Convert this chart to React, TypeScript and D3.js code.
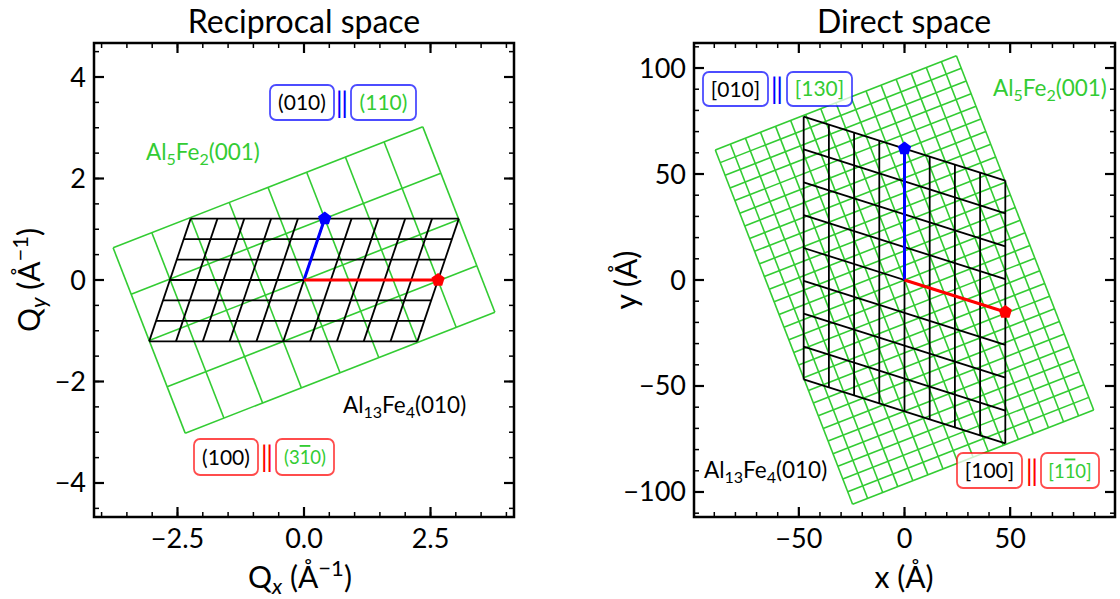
import React from "react";
import * as d3 from "d3";

const FONT = "Lato, 'DejaVu Sans', sans-serif";
const GREEN = "#33cc33";
const BLUE = "#0000ff";
const RED = "#ff0000";

// ---------- Reciprocal space (left) ----------
const recipXTicks = [-2.5, 0, 2.5];
const recipYTicks = [-4, -2, 0, 2, 4];
const recipXDomain = [-4.15, 4.15];
const recipYDomain = [-4.67, 4.67];
const recipRed = [2.65, 0]; // (100) || (3-10)
const recipBlue = [0.41, 1.21]; // (010) || (110)
const recipBlackDiv = [5, 3]; // Al13Fe4 cells per half-vector
const recipGreenA = [0.765, 0.298]; // Al5Fe2 a*
const recipGreenB = [-0.356, 0.913]; // Al5Fe2 b*
const recipGreenHalf = [4, 2]; // cells each side

// ---------- Direct space (right) ----------
const directXTicks = [-50, 0, 50];
const directYTicks = [-100, -50, 0, 50, 100];
const directXDomain = [-99.6, 99.6];
const directYDomain = [-111.8, 111.8];
const directRed = [47.7, -15.1]; // [100] || [1-10]
const directBlue = [0, 62]; // [010] || [130]
const directBlackDiv = [4, 4];
const directGreenA = [7.13, 2.78];
const directGreenB = [-2.32, 5.97];
const directGreenHalf = [8, 14];

type V2 = number[];

function gridSegments(U: V2, V: V2, m: number, n: number): V2[][] {
  const segs: V2[][] = [];
  for (let i = -m; i <= m; i++) {
    segs.push([
      [i * U[0] - n * V[0], i * U[1] - n * V[1]],
      [i * U[0] + n * V[0], i * U[1] + n * V[1]],
    ]);
  }
  for (let j = -n; j <= n; j++) {
    segs.push([
      [-m * U[0] + j * V[0], -m * U[1] + j * V[1]],
      [m * U[0] + j * V[0], m * U[1] + j * V[1]],
    ]);
  }
  return segs;
}

function pentagon(cx: number, cy: number, r: number) {
  const pts = d3.range(5).map((k) => {
    const a = ((-90 + k * 72) * Math.PI) / 180;
    return [cx + r * Math.cos(a), cy + r * Math.sin(a)];
  });
  return "M" + pts.map((p) => p.join(",")).join("L") + "Z";
}

const fmt = (v: number, dec: number) => {
  const s = dec > 0 ? v.toFixed(dec) : String(v);
  return s.replace("-", "\u2212");
};

type PanelProps = {
  id: string;
  f: { x0: number; x1: number; y0: number; y1: number };
  xd: number[];
  yd: number[];
  xt: number[];
  yt: number[];
  xMinorStep: number;
  yMinorStep: number;
  xDec: number;
  yDec: number;
  red: V2;
  blue: V2;
  blackDiv: number[];
  gA: V2;
  gB: V2;
  gHalf: number[];
};

function Panel(p: PanelProps) {
  const { f } = p;
  const x = d3.scaleLinear().domain(p.xd).range([f.x0, f.x1]);
  const y = d3.scaleLinear().domain(p.yd).range([f.y1, f.y0]);
  const line = d3
    .line<V2>()
    .x((d) => x(d[0]))
    .y((d) => y(d[1]));

  const greenSegs = gridSegments(p.gA, p.gB, p.gHalf[0], p.gHalf[1]);
  const U = [p.red[0] / p.blackDiv[0], p.red[1] / p.blackDiv[0]];
  const V = [p.blue[0] / p.blackDiv[1], p.blue[1] / p.blackDiv[1]];
  const blackSegs = gridSegments(U, V, p.blackDiv[0], p.blackDiv[1]);

  const eps = 1e-9;
  const xMinor = d3.range(
    Math.ceil(p.xd[0] / p.xMinorStep) * p.xMinorStep,
    p.xd[1] + eps,
    p.xMinorStep
  );
  const yMinor = d3.range(
    Math.ceil(p.yd[0] / p.yMinorStep) * p.yMinorStep,
    p.yd[1] + eps,
    p.yMinorStep
  );
  const MAJ = 10;
  const MIN = 5;

  return (
    <g>
      <defs>
        <clipPath id={p.id}>
          <rect x={f.x0} y={f.y0} width={f.x1 - f.x0} height={f.y1 - f.y0} />
        </clipPath>
      </defs>
      <g clipPath={`url(#${p.id})`}>
        {greenSegs.map((s, i) => (
          <path key={"g" + i} d={line(s) || ""} stroke={GREEN} strokeWidth={1.6} fill="none" />
        ))}
        {blackSegs.map((s, i) => (
          <path key={"b" + i} d={line(s) || ""} stroke="#000" strokeWidth={1.8} fill="none" />
        ))}
        <path d={line([[0, 0], p.blue]) || ""} stroke={BLUE} strokeWidth={3} fill="none" />
        <path d={line([[0, 0], p.red]) || ""} stroke={RED} strokeWidth={3} fill="none" />
        <path d={pentagon(x(p.blue[0]), y(p.blue[1]), 7)} fill={BLUE} />
        <path d={pentagon(x(p.red[0]), y(p.red[1]), 7)} fill={RED} />
      </g>
      {/* ticks */}
      <g stroke="#000" strokeWidth={1.5}>
        {xMinor.map((v, i) => (
          <g key={"xm" + i}>
            <line x1={x(v)} x2={x(v)} y1={f.y1} y2={f.y1 - MIN} />
            <line x1={x(v)} x2={x(v)} y1={f.y0} y2={f.y0 + MIN} />
          </g>
        ))}
        {yMinor.map((v, i) => (
          <g key={"ym" + i}>
            <line y1={y(v)} y2={y(v)} x1={f.x0} x2={f.x0 + MIN} />
            <line y1={y(v)} y2={y(v)} x1={f.x1} x2={f.x1 - MIN} />
          </g>
        ))}
      </g>
      <g stroke="#000" strokeWidth={2.2}>
        {p.xt.map((v, i) => (
          <g key={"xt" + i}>
            <line x1={x(v)} x2={x(v)} y1={f.y1} y2={f.y1 - MAJ} />
            <line x1={x(v)} x2={x(v)} y1={f.y0} y2={f.y0 + MAJ} />
          </g>
        ))}
        {p.yt.map((v, i) => (
          <g key={"yt" + i}>
            <line y1={y(v)} y2={y(v)} x1={f.x0} x2={f.x0 + MAJ} />
            <line y1={y(v)} y2={y(v)} x1={f.x1} x2={f.x1 - MAJ} />
          </g>
        ))}
      </g>
      <rect
        x={f.x0}
        y={f.y0}
        width={f.x1 - f.x0}
        height={f.y1 - f.y0}
        fill="none"
        stroke="#000"
        strokeWidth={2.5}
      />
      <g fontFamily={FONT} fontSize={27} fill="#000">
        {p.xt.map((v, i) => (
          <text key={"xl" + i} x={x(v)} y={f.y1 + 31} textAnchor="middle">
            {fmt(v, p.xDec)}
          </text>
        ))}
        {p.yt.map((v, i) => (
          <text key={"yl" + i} x={f.x0 - 8} y={y(v) + 9.5} textAnchor="end">
            {fmt(v, p.yDec)}
          </text>
        ))}
      </g>
    </g>
  );
}

type BoxPairProps = {
  color: string;
  y0: number;
  y1: number;
  b1: number[];
  bar: number;
  b2: number[];
  t1: string;
  t2: React.ReactNode;
  t2Size: number;
};

function BoxPair(p: BoxPairProps) {
  const cy = (p.y0 + p.y1) / 2;
  const box = (b: number[]) => (
    <rect
      x={b[0]}
      y={p.y0}
      width={b[1] - b[0]}
      height={p.y1 - p.y0}
      rx={6}
      ry={6}
      fill="#fff"
      fillOpacity={0.75}
      stroke={p.color}
      strokeOpacity={0.7}
      strokeWidth={1.8}
    />
  );
  return (
    <g fontFamily={FONT}>
      {box(p.b1)}
      {box(p.b2)}
      <text x={(p.b1[0] + p.b1[1]) / 2} y={cy + 7.5} textAnchor="middle" fontSize={21} fill="#000">
        {p.t1}
      </text>
      <text x={p.bar} y={cy + 10} textAnchor="middle" fontSize={28} fill={p.color}>
        {"\u2016"}
      </text>
      <text
        x={(p.b2[0] + p.b2[1]) / 2}
        y={cy + 7}
        textAnchor="middle"
        fontSize={p.t2Size}
        fill={GREEN}
      >
        {p.t2}
      </text>
    </g>
  );
}

function Formula({ x, y, color, a, b, hkl }: { x: number; y: number; color: string; a: string; b: string; hkl: string }) {
  return (
    <text x={x} y={y} fontFamily={FONT} fontSize={22.5} fill={color}>
      Al
      <tspan fontSize={16} dy={5}>
        {a}
      </tspan>
      <tspan dy={-5}>Fe</tspan>
      <tspan fontSize={16} dy={5}>
        {b}
      </tspan>
      <tspan dy={-5}>{hkl}</tspan>
    </text>
  );
}

export default function App() {
  const L = { x0: 94, x1: 514, y0: 43, y1: 517 };
  const R = { x0: 694, x1: 1115, y0: 43, y1: 517 };
  return (
    <svg width={1120} height={599} style={{ position: "absolute", left: 0, top: 0 }}>
      <rect x={0} y={0} width={1120} height={599} fill="#fff" />
      <Panel
        id="clipL"
        f={L}
        xd={recipXDomain}
        yd={recipYDomain}
        xt={recipXTicks}
        yt={recipYTicks}
        xMinorStep={0.5}
        yMinorStep={0.5}
        xDec={1}
        yDec={0}
        red={recipRed}
        blue={recipBlue}
        blackDiv={recipBlackDiv}
        gA={recipGreenA}
        gB={recipGreenB}
        gHalf={recipGreenHalf}
      />
      <Panel
        id="clipR"
        f={R}
        xd={directXDomain}
        yd={directYDomain}
        xt={directXTicks}
        yt={directYTicks}
        xMinorStep={10}
        yMinorStep={10}
        xDec={0}
        yDec={0}
        red={directRed}
        blue={directBlue}
        blackDiv={directBlackDiv}
        gA={directGreenA}
        gB={directGreenB}
        gHalf={directGreenHalf}
      />

      {/* Titles */}
      <text x={304} y={33} textAnchor="middle" fontFamily={FONT} fontSize={32}>
        Reciprocal space
      </text>
      <text x={904} y={33} textAnchor="middle" fontFamily={FONT} fontSize={32}>
        Direct space
      </text>

      {/* Axis labels */}
      <text x={300} y={588} textAnchor="middle" fontFamily={FONT} fontSize={30}>
        Q
        <tspan fontSize={22} fontStyle="italic" dy={6}>x</tspan>
        <tspan dy={-6}> (Å</tspan>
        <tspan fontSize={22} dy={-12}>{"\u22121"}</tspan>
        <tspan dy={12}>)</tspan>
      </text>
      <text
        transform="translate(40,280) rotate(-90)"
        textAnchor="middle"
        fontFamily={FONT}
        fontSize={30}
      >
        Q
        <tspan fontSize={22} fontStyle="italic" dy={6}>y</tspan>
        <tspan dy={-6}> (Å</tspan>
        <tspan fontSize={22} dy={-12}>{"\u22121"}</tspan>
        <tspan dy={12}>)</tspan>
      </text>
      <text x={904} y={588} textAnchor="middle" fontFamily={FONT} fontSize={30}>
        x (Å)
      </text>
      <text
        transform="translate(637,280) rotate(-90)"
        textAnchor="middle"
        fontFamily={FONT}
        fontSize={30}
      >
        y (Å)
      </text>

      {/* Left annotations */}
      <Formula x={146} y={160} color={GREEN} a="5" b="2" hkl="(001)" />
      <Formula x={343} y={413} color="#000" a="13" b="4" hkl="(010)" />
      <BoxPair
        color={BLUE}
        y0={85}
        y1={120}
        b1={[270, 334]}
        bar={342}
        b2={[351, 416]}
        t1="(010)"
        t2="(110)"
        t2Size={21}
      />
      <BoxPair
        color={RED}
        y0={439}
        y1={475}
        b1={[194, 258]}
        bar={267}
        b2={[276, 334]}
        t1="(100)"
        t2={
          <>
            (3<tspan style={{ textDecoration: "overline" }}>1</tspan>0)
          </>
        }
        t2Size={18.5}
      />

      {/* Right annotations */}
      <Formula x={993} y={96} color={GREEN} a="5" b="2" hkl="(001)" />
      <Formula x={704} y={478} color="#000" a="13" b="4" hkl="(010)" />
      <BoxPair
        color={BLUE}
        y0={72}
        y1={106}
        b1={[703, 768]}
        bar={777}
        b2={[787, 852]}
        t1="[010]"
        t2="[130]"
        t2Size={21}
      />
      <BoxPair
        color={RED}
        y0={453}
        y1={488}
        b1={[957, 1022]}
        bar={1032}
        b2={[1041, 1099]}
        t1="[100]"
        t2={
          <>
            [1<tspan style={{ textDecoration: "overline" }}>1</tspan>0]
          </>
        }
        t2Size={18.5}
      />
    </svg>
  );
}
